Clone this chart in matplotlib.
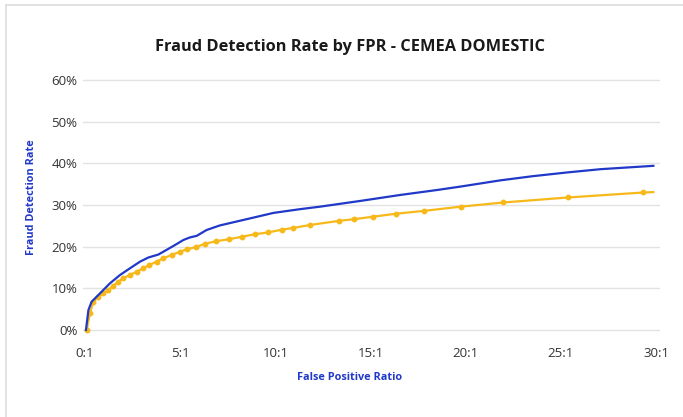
import numpy as np
import matplotlib.pyplot as plt
from matplotlib.lines import Line2D

# blue curve (no markers)
blue_x = [0.05, 0.18, 0.35, 0.79, 1.31, 1.84, 2.36, 2.89, 3.33, 3.85, 4.2, 4.73,
          5.17, 5.5, 5.87, 6.39, 7.09, 8.5, 9.9, 11.3, 12.35, 14.5, 16.55, 18.5,
          19.7, 21.8, 23.5, 25.3, 27.1, 29.86]
blue_y = [0, 4.8, 6.8, 8.8, 11.2, 13.2, 14.8, 16.4, 17.4, 18.1, 19.0, 20.4,
          21.6, 22.2, 22.6, 24.0, 25.1, 26.6, 28.1, 29.0, 29.6, 31.0, 32.4, 33.6,
          34.4, 35.9, 36.9, 37.8, 38.6, 39.4]

# gold curve (with point markers)
gold_x = [0.09, 0.26, 0.44, 0.70, 0.96, 1.22, 1.49, 1.75, 2.0, 2.36, 2.71, 3.06,
          3.38, 3.76, 4.11, 4.55, 4.99, 5.38, 5.83, 6.31, 6.88, 7.58, 8.27, 8.95,
          9.6, 10.37, 10.95, 11.82, 13.35, 14.15, 15.15, 16.33, 17.83, 19.74,
          21.98, 25.36, 29.34, 29.86]
gold_y = [0, 4.0, 6.8, 8.0, 8.8, 9.6, 10.6, 11.6, 12.4, 13.2, 14.0, 14.8,
          15.6, 16.4, 17.2, 18.0, 18.8, 19.4, 19.9, 20.7, 21.3, 21.8, 22.4, 23.0,
          23.4, 24.1, 24.5, 25.2, 26.2, 26.6, 27.2, 27.9, 28.6, 29.6,
          30.6, 31.8, 33.0, 33.1]

x_ticks = [0, 5, 10, 15, 20, 25, 30]
x_labels = ['0:1', '5:1', '10:1', '15:1', '20:1', '25:1', '30:1']
y_ticks = [0, 10, 20, 30, 40, 50, 60]
y_labels = ['0%', '10%', '20%', '30%', '40%', '50%', '60%']

blue = '#2039c8'
gold = '#f7b91a'
text_col = '#333333'

fig = plt.figure(figsize=(6.83, 4.17), dpi=100)
ax = fig.add_axes([83/683, (87 - 2.08)/417, 577/683, 254.17/417])

ax.plot(blue_x, blue_y, color=blue, lw=1.6, clip_on=False, zorder=3)
ax.plot(gold_x[:-1], gold_y[:-1], color=gold, lw=1.6, marker='o', ms=3.2,
        clip_on=False, zorder=2)
ax.plot(gold_x[-2:], gold_y[-2:], color=gold, lw=1.6, clip_on=False, zorder=2)

ax.set_xlim(-0.105, 30.21)
ax.set_ylim(-0.5, 60.5)
ax.set_xticks(x_ticks)
ax.set_xticklabels(x_labels)
ax.set_yticks(y_ticks)
ax.set_yticklabels(y_labels)
ax.grid(True, axis='y', color='#e2e2e2', lw=1)
ax.set_axisbelow(True)
for s in ax.spines.values():
    s.set_visible(False)
ax.tick_params(length=0, labelsize=9.5, labelcolor=text_col)
ax.tick_params(axis='x', pad=11)
ax.tick_params(axis='y', pad=4)
for lab in ax.get_xticklabels() + ax.get_yticklabels():
    lab.set_family('Open Sans')

fig.text(0.513, 1 - 47/417, 'Fraud Detection Rate by FPR - CEMEA DOMESTIC',
         ha='center', va='center', fontsize=11.8, fontweight='bold',
         color='#1a1a1a', family='Open Sans')
fig.text(350/683, 1 - 378/417, 'False Positive Ratio', ha='center', va='center',
         fontsize=7.8, fontweight='bold', color=blue, family='Open Sans')
fig.text(31/683, 1 - 197/417, 'Fraud Detection Rate', ha='center', va='center',
         rotation=90, fontsize=7.8, fontweight='bold', color=blue,
         family='Open Sans')

# light frame on the left and top edges
fig.add_artist(Line2D([6/683, 6/683], [0, 1 - 5/417], color='#dddddd', lw=1.2,
                      transform=fig.transFigure))
fig.add_artist(Line2D([6/683, 1], [1 - 5/417, 1 - 5/417], color='#dddddd', lw=1.2,
                      transform=fig.transFigure))

fig.savefig('out.png', dpi=100)
